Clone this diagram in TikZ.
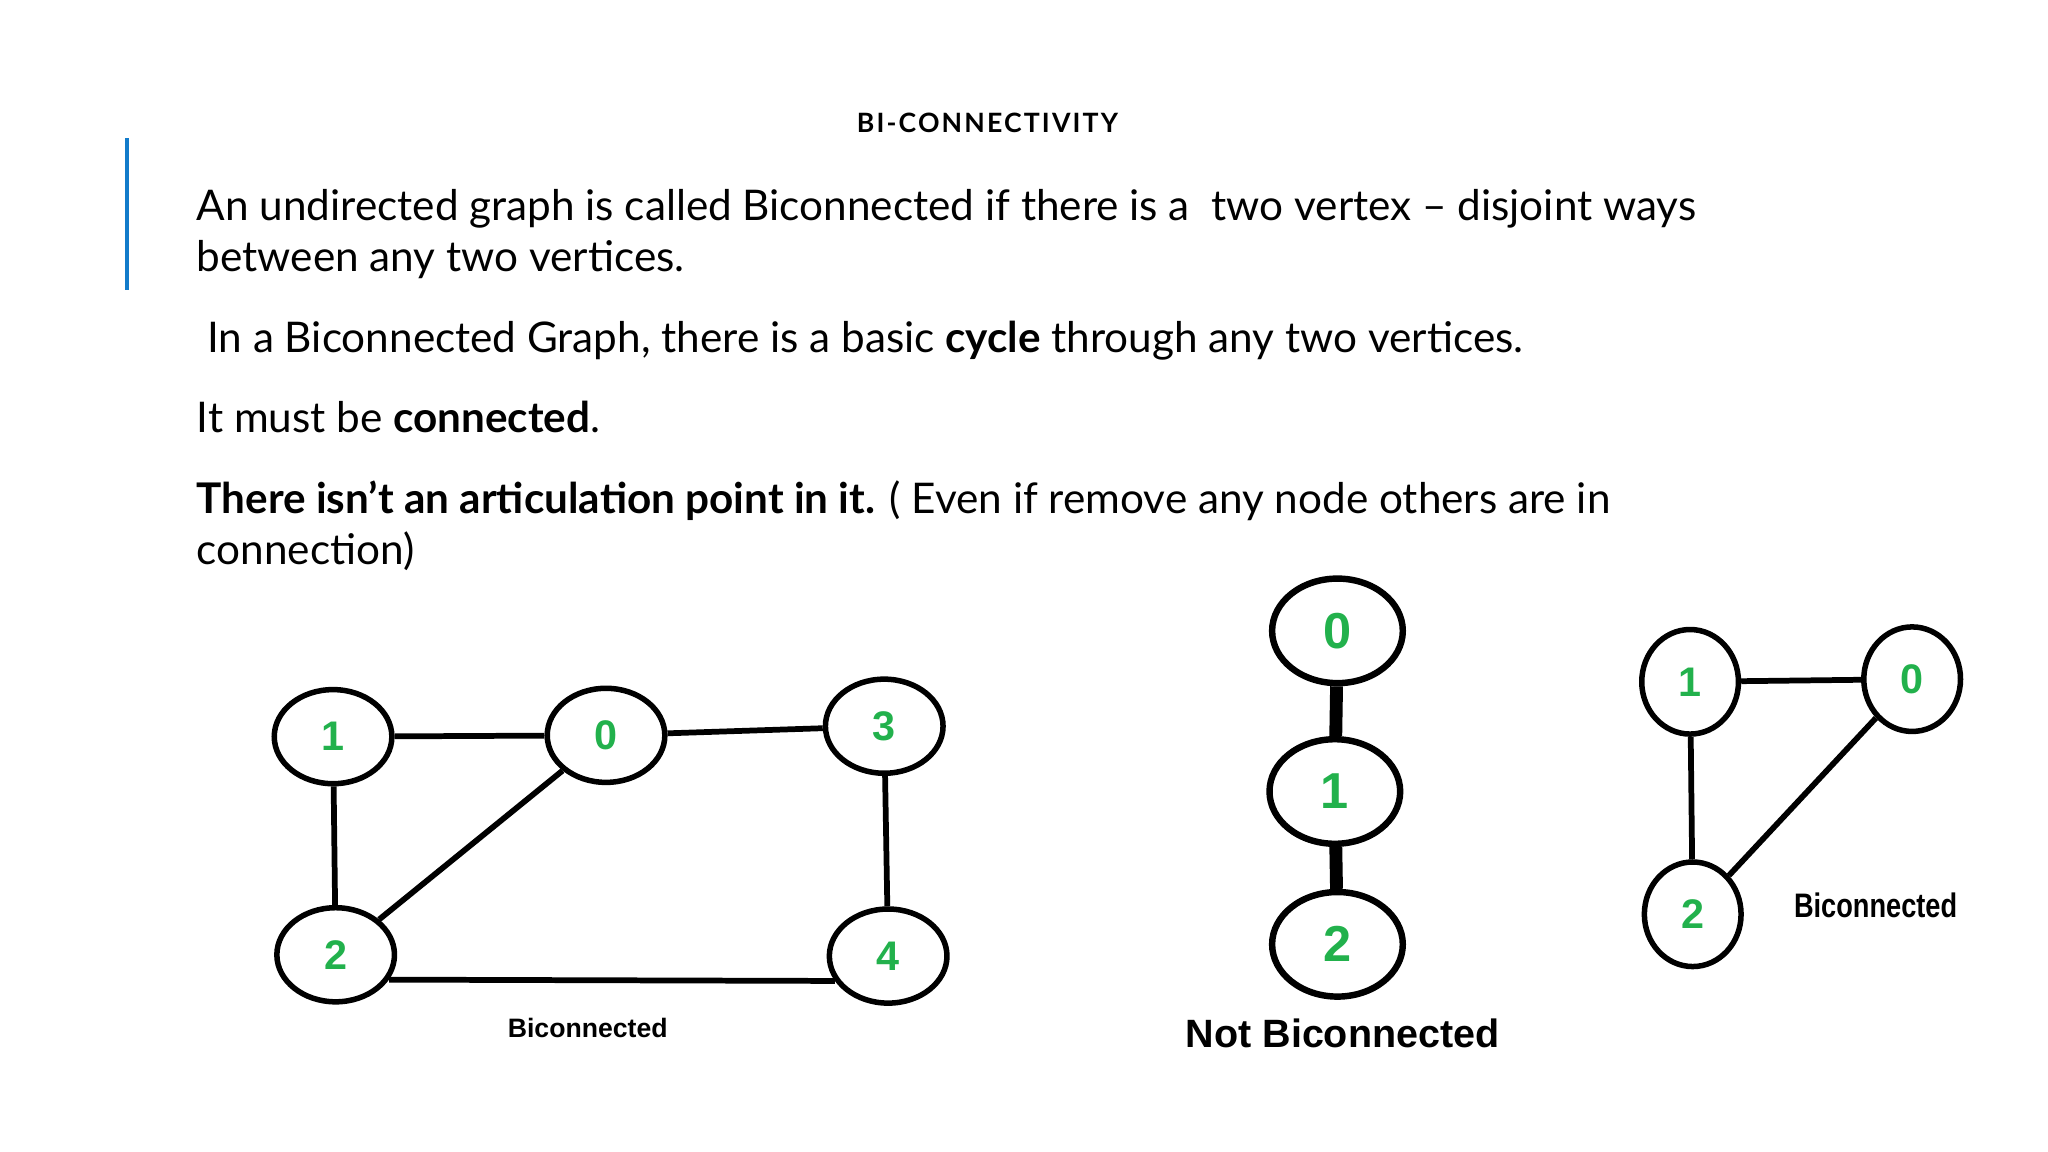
\documentclass[tikz,border=0pt]{standalone}
\usepackage{fontspec}
\setmainfont{Lato}
\newfontfamily\arialf{Liberation Sans}
\usetikzlibrary{shapes.geometric}
\definecolor{vg}{RGB}{34,177,76}
\begin{document}
\begin{tikzpicture}[x=0.01cm,y=-0.01cm,
  v/.style={ellipse,draw,line width=1.2pt,inner sep=0,minimum width=0.9cm,minimum height=0.72cm,text=vg,font=\arialf\bfseries\fontsize{9}{10}\selectfont},
  vb/.style={v,minimum width=1.0cm,minimum height=0.8cm,line width=1.4pt,font=\arialf\bfseries\fontsize{11}{12}\selectfont},
  vc/.style={v,minimum width=0.74cm,minimum height=0.8cm},
  e/.style={line width=1.25pt},
  eb/.style={line width=2.8pt},
  body/.style={anchor=base west,inner sep=0,font=\fontsize{9.2}{11}\selectfont}]
\useasboundingbox (0,0) rectangle (1568,882);
\fill[white] (0,0) rectangle (1568,882);
\draw[line width=0.8pt,cyan!60!blue] (97,106) -- (97,222);
\node (title) at (756,94) {\fontsize{5.8}{7}\selectfont\bfseries\addfontfeature{LetterSpace=8}BI-CONNECTIVITY};
\node[body] (t1) at (150,169) {An undirected graph is called Biconnected if there is a\ \ two vertex -- disjoint ways};
\node[body] (t2) at (150,208) {between any two vertices.};
\node[body] (t3) at (158,270) {In a Biconnected Graph, there is a basic \textbf{cycle} through any two vertices.};
\node[body] (t4) at (150,331) {It must be \textbf{connected}.};
\node[body] (t5) at (150,393) {\textbf{There isn’t an articulation point in it.} ( Even if remove any node others are in};
\node[body] (t6) at (150,432) {connection)};
% graph 1
\node[v] (a1) at (255,564) {1};
\node[v] (a0) at (464,563) {0};
\node[v] (a3) at (677,556) {3};
\node[v] (a2) at (257,731) {2};
\node[v] (a4) at (680,732) {4};
\draw[e] (a1) -- (a0); \draw[e] (a0) -- (a3); \draw[e] (a1) -- (a2);
\draw[e] (a3) -- (a4); \draw[e] (a0) -- (a2); \draw[e] (a2.-25) -- (a4.205);
\node[font=\arialf\bfseries\fontsize{5.8}{7}\selectfont] (l1) at (450,787) {Biconnected};
% graph 2
\node[vb] (b0) at (1024,483) {0};
\node[vb] (b1) at (1022,606) {1};
\node[vb] (b2) at (1024,723) {2};
\draw[eb] (b0) -- (b1); \draw[eb] (b1) -- (b2);
\node[font=\arialf\bfseries\fontsize{8.6}{10}\selectfont] (l2) at (1028,791) {Not Biconnected};
% graph 3
\node[vc] (c1) at (1294,522) {1};
\node[vc] (c0) at (1464,520) {0};
\node[vc] (c2) at (1296,700) {2};
\draw[e] (c1) -- (c0); \draw[e] (c1) -- (c2); \draw[e] (c0) -- (c2);
\node[font=\arialf\bfseries\fontsize{7.4}{9}\selectfont,xscale=0.8] (l3) at (1436,693) {Biconnected};
\end{tikzpicture}
\end{document}
